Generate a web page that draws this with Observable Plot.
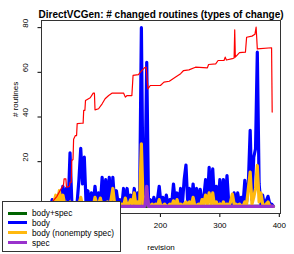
<!DOCTYPE html>
<html><head><meta charset="utf-8">
<script src="https://cdn.jsdelivr.net/npm/d3@7"></script>
<script src="https://cdn.jsdelivr.net/npm/@observablehq/plot@0.6"></script>
<style>
body{margin:0;background:#fff;font-family:"Liberation Sans",Arial,sans-serif;}
#wrap{position:relative;width:294px;height:254px;overflow:hidden;}
#legend{position:absolute;left:2px;top:201px;width:119px;height:51px;background:#fff;border:1px solid #333;box-sizing:border-box;}
.row{position:absolute;left:0;height:10px;width:117px;}
.sw{position:absolute;left:5px;top:3.5px;width:19px;height:3px;}
.lb{position:absolute;left:29px;top:0;font-size:8.3px;line-height:10px;white-space:nowrap;color:#000;}
</style>
</head><body>
<div id="wrap"><div id="chart"></div><div id="legend"></div></div>
<script>
const title = "DirectVCGen: # changed routines (types of change)";
const xLabel = "revision";
const yLabel = "# routines";
// ticks visible in the reference (0 and 100 sit under the legend)
const xTicks = [200, 300, 400];
const yTicks = [20, 40, 60, 80];
const seriesNames = ["body+spec", "body", "body (nonempty spec)", "spec"];
const seriesColors = ["#006400", "#0000FF", "#FFB90F", "#9932CC"];

const revisions = [15,18,21,24,27,30,33,36,39,42,45,48,51,54,57,60,63,66,69,72,
75,78,81,84,87,90,93,96,99,102,105,108,111,114,117,120,123,126,129,132,
135,138,141,144,147,150,153,156,159,162,165,168,171,174,177,180,183,186,189,192,
195,198,201,204,207,210,213,216,219,222,225,228,231,234,237,240,243,246,249,252,
255,258,261,264,267,270,273,276,279,282,285,288,291,294,297,300,303,306,309,312,
315,318,321,324,327,330,333,336,339,342,345,348,351,354,357,360,363,366,369,372,
375,378,381,384,387,390];

const bodySpec = [0,0,0,0,0,0,0,0,0,0,0,0,0,0,0,0,0,0,0,0,
0,0,0,0,0,0,0,0,0,0,0,0,0,0,0,0,0,0,0,0,
0,0,0,0,0,0,0,0,0,0,0,0,0,0,0,0,0,0,0,0,
0,0,0,0,0,0,0,0,0,0,0,0,0,0,0,0,0,0,0,0,
0,0,0,0,0,0,0,0,0,0,0,0,0,0,0,0,0,0,0,0,
0,0,0,0,0,0,0,0,0,0,0,0,0,0,0,0,0,0,0,0,
0,0,0,0,0,0];

const body = [0,3,0,4,1,6,2,9,3,8,
1,24,2,1,0,2,12,26,10,22,
1,7,1,6,1,9,1,6,1,13,
2,12,1,13,1,13,2,7,1,3,
0,8,1,8,1,5,1,8,1,6,
1,80,0,6,64.5,1,3,0,4,1,
3,9,1,4,1,5,0,3,1,10,
2,6,1,8,1,12,18.5,1,8,1,
10,1,8,1,7.6,1,4,12,2,17.5,
3,16.8,2,9,1,12,2,12,1,13.8,
1,2.5,1,6,1,6,1,4,1,11.6,
2,11,34,3,22,25.8,69,10,1,5,
0,2.5,4.5,1,1,0];

const bodyNonempty = [0,0,2,5,1,7,2,5,1,0,
1,2,0,0,0,0,1,4,0,1,
0,1,0,1,0,4,1,1,3.7,0,
1,0,2,0,3,8,1,1,0,0,
1,0,3.7,0,1,3,1,6,0,2,
0,28,0,3,5,0,0,1,0,1,
0,3,0,0,1,0,0,1,0,2.5,
0,3,0,1,0,1,2,0,2,0,
4,0,0,1,0,3,1,5,1,6,
1,6,0,2,0,1,0,2,0,1,
0,2,5.5,1,1,0,1,0,0,2,
1,8,15.3,1,4,8,18.3,2,6,1,
0,1,2,0,0,0];

const spec = [0,0,0,0,0,0,0,0,0,0,0,0,0,0,0,0,0,0,0,0,
0,0,0,0,0,0,0,0,0,0,0,0,0,0,0,0,0,0,0,0,
0,0,0,0,0,0,0,0,0,0,0,0,0,0,9,0,0,0,0,0,
0,0,0,0,0,0,0,0,0,0,0,0,0,0,0,0,0,0,0,0,
0,0,0,0,0,0,0,0,0,0,0,0,0,0,0,0,0,0,0,0,
0,0,0,0,0,0,0,0,0,0,0,0,0,0,0,0,0,0,0,0,
0,0,0,0,0,0];

const totalRev = [20,26,33,37,38,41,42,47,48,50,51,53,54,57,59,60,67,70,71,73,
74,82,87,89,90,96,102,107,113,119,138,141,144,152,154,163,166,173,176,179,
183,200,206,215,225,234,239,248,259,279,281,293,297,307,309,311,321,324,325,326,
333,343,345,354,359,361,363,387,388];
const totalVal = [2.6,4.5,7.9,9.5,12.3,12.3,8.6,8.9,10.8,10.8,20.5,21,30,31.7,31.7,37,37.2,37.2,43,43,
47.4,48.6,50.7,50.7,43.2,43.7,45.9,48.2,49.6,50.7,50.7,48.9,49.6,49.6,58.6,59,60,62,62.3,52.6,
54.1,54.1,55.6,56,57.8,59.4,60.8,61.1,62.3,62,63.5,63.8,65.3,65.3,66.8,65.5,66.1,66.4,79,66.8,
68.8,69,75.7,76.2,77,80.2,70.5,71,42.2];

const mk = vals => revisions.map((r, i) => ({rev: r, v: vals[i]}));
const total = totalRev.map((r, i) => ({rev: r, v: totalVal[i]}));
const allSeries = [bodySpec, body, bodyNonempty, spec];

const font = '"Liberation Sans", Arial, sans-serif';
const chart = Plot.plot({
  width: 294, height: 254,
  marginLeft: 41, marginRight: 14, marginTop: 20, marginBottom: 41,
  style: {fontFamily: font, fontSize: "8px", background: "#fff", color: "#000"},
  x: {domain: [0, 402]},
  y: {domain: [-3.2, 83.2]},
  marks: [
    Plot.axisX({ticks: xTicks, tickSize: 4, tickPadding: 5, label: null, fontSize: 8}),
    Plot.axisY({ticks: yTicks, tickSize: 3.5, tickFormat: () => "", label: null}),
    Plot.text(yTicks, {y: d => d, text: d => String(d), frameAnchor: "left", dx: -16, rotate: -90, fontSize: 8}),
    ...allSeries.map((s, i) => Plot.line(mk(s), {x: "rev", y: "v", stroke: seriesColors[i], strokeWidth: 3.2})),
    Plot.line(total, {x: "rev", y: "v", stroke: "#FF0000", strokeWidth: 1.2}),
    Plot.frame({stroke: "#333"}),
    Plot.text([title], {text: d => d, frameAnchor: "top", dy: -9.5, fontWeight: "bold", fontSize: 10}),
    Plot.text([yLabel], {text: d => d, frameAnchor: "left", dx: -26, rotate: -90, fontSize: 8}),
    Plot.text([xLabel], {text: d => d, frameAnchor: "bottom", dy: 36, fontSize: 8})
  ]
});
document.getElementById("chart").appendChild(chart);

const lg = document.getElementById("legend");
seriesNames.forEach((name, i) => {
  const row = document.createElement("div");
  row.className = "row";
  row.style.top = (6 + i * 9.9) + "px";
  const sw = document.createElement("span");
  sw.className = "sw";
  sw.style.background = seriesColors[i];
  const lb = document.createElement("span");
  lb.className = "lb";
  lb.textContent = name;
  row.appendChild(sw); row.appendChild(lb);
  lg.appendChild(row);
});
</script>
</body></html>
